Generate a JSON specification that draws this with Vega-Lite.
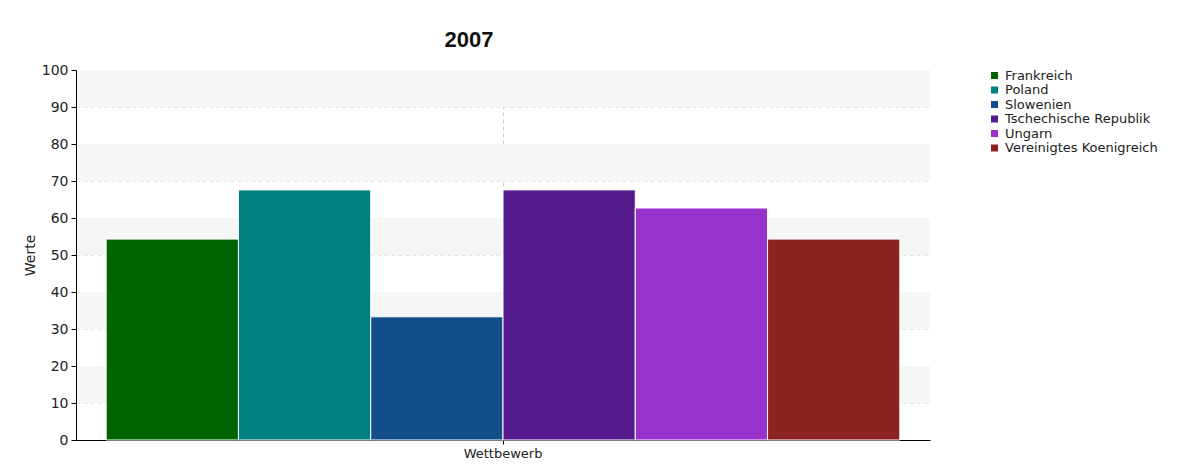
{
  "$schema": "https://vega.github.io/schema/vega-lite/v6.json",
  "width": 854,
  "height": 370,
  "autosize": "none",
  "padding": {"left": 76, "top": 70, "right": 254, "bottom": 35},
  "background": "white",
  "title": {"text": "2007", "fontSize": 22, "font": "Liberation Sans", "fontWeight": "bold", "color": "#111", "dx": -34, "offset": 11},
  "datasets": {
    "bars": [
      {"Kategorie": "Wettbewerb", "Land": "Frankreich", "Wert": 54.3},
      {"Kategorie": "Wettbewerb", "Land": "Poland", "Wert": 67.6},
      {"Kategorie": "Wettbewerb", "Land": "Slowenien", "Wert": 33.3},
      {"Kategorie": "Wettbewerb", "Land": "Tschechische Republik", "Wert": 67.6},
      {"Kategorie": "Wettbewerb", "Land": "Ungarn", "Wert": 62.7},
      {"Kategorie": "Wettbewerb", "Land": "Vereinigtes Koenigreich", "Wert": 54.3}
    ],
    "bands": [
      {"lo": 10, "hi": 20},
      {"lo": 30, "hi": 40},
      {"lo": 50, "hi": 60},
      {"lo": 70, "hi": 80},
      {"lo": 90, "hi": 100}
    ]
  },
  "resolve": {"axis": {"y": "independent"}},
  "layer": [
    {
      "data": {"name": "bands"},
      "mark": {"type": "rect", "color": "#f6f6f6"},
      "encoding": {
        "y": {
          "field": "lo", "type": "quantitative", "scale": {"domain": [0, 100]},
          "axis": {"orient": "left", "title": null, "labels": false, "ticks": false, "domain": false,
                   "values": [0,10,20,30,40,50,60,70,80,90,100],
                   "grid": true, "gridDash": [4, 3], "gridColor": "#e4e4e4", "zindex": 0}
        },
        "y2": {"field": "hi"}
      }
    },
    {
      "data": {"name": "bars"},
      "mark": {"type": "bar", "stroke": "white", "strokeWidth": 1},
      "encoding": {
        "x": {
          "field": "Kategorie", "type": "nominal",
          "scale": {"paddingInner": 0, "paddingOuter": 0.038},
          "axis": {
            "title": null, "labelAngle": 0, "grid": true, "gridDash": [4, 3], "gridColor": "#cccccc",
            "bandPosition": 0.5, "domainColor": "#000", "tickColor": "#000", "tickSize": 4,
            "labelFont": "DejaVu Sans", "labelFontSize": 13, "labelColor": "#222", "labelPadding": 3
          }
        },
        "xOffset": {"field": "Land", "type": "nominal", "scale": {"paddingInner": 0, "paddingOuter": 0}},
        "y": {
          "field": "Wert", "type": "quantitative",
          "scale": {"domain": [0, 100]},
          "axis": {
            "orient": "left", "zindex": 1,
            "title": "Werte", "values": [0,10,20,30,40,50,60,70,80,90,100], "labelOverlap": false,
            "grid": false,
            "domainColor": "#000", "tickColor": "#000", "tickSize": 5,
            "labelFont": "DejaVu Sans", "labelFontSize": 14, "labelColor": "#222", "labelPadding": 3,
            "titleFont": "DejaVu Sans", "titleFontSize": 14, "titleFontWeight": "normal", "titleColor": "#222", "titlePadding": 4
          }
        },
        "color": {
          "field": "Land", "type": "nominal",
          "scale": {
            "domain": ["Frankreich", "Poland", "Slowenien", "Tschechische Republik", "Ungarn", "Vereinigtes Koenigreich"],
            "range": ["#006400", "#008080", "#124e89", "#551a8b", "#9932cc", "#8b2323"]
          },
          "legend": {
            "title": null, "orient": "none", "legendX": 912, "legendY": -1,
            "symbolType": "square", "symbolSize": 49, "symbolStrokeWidth": 0,
            "labelFont": "DejaVu Sans", "labelFontSize": 13, "labelColor": "#222",
            "rowPadding": 0.5, "labelOffset": 4
          }
        }
      }
    }
  ],
  "config": {"view": {"stroke": null}}
}
